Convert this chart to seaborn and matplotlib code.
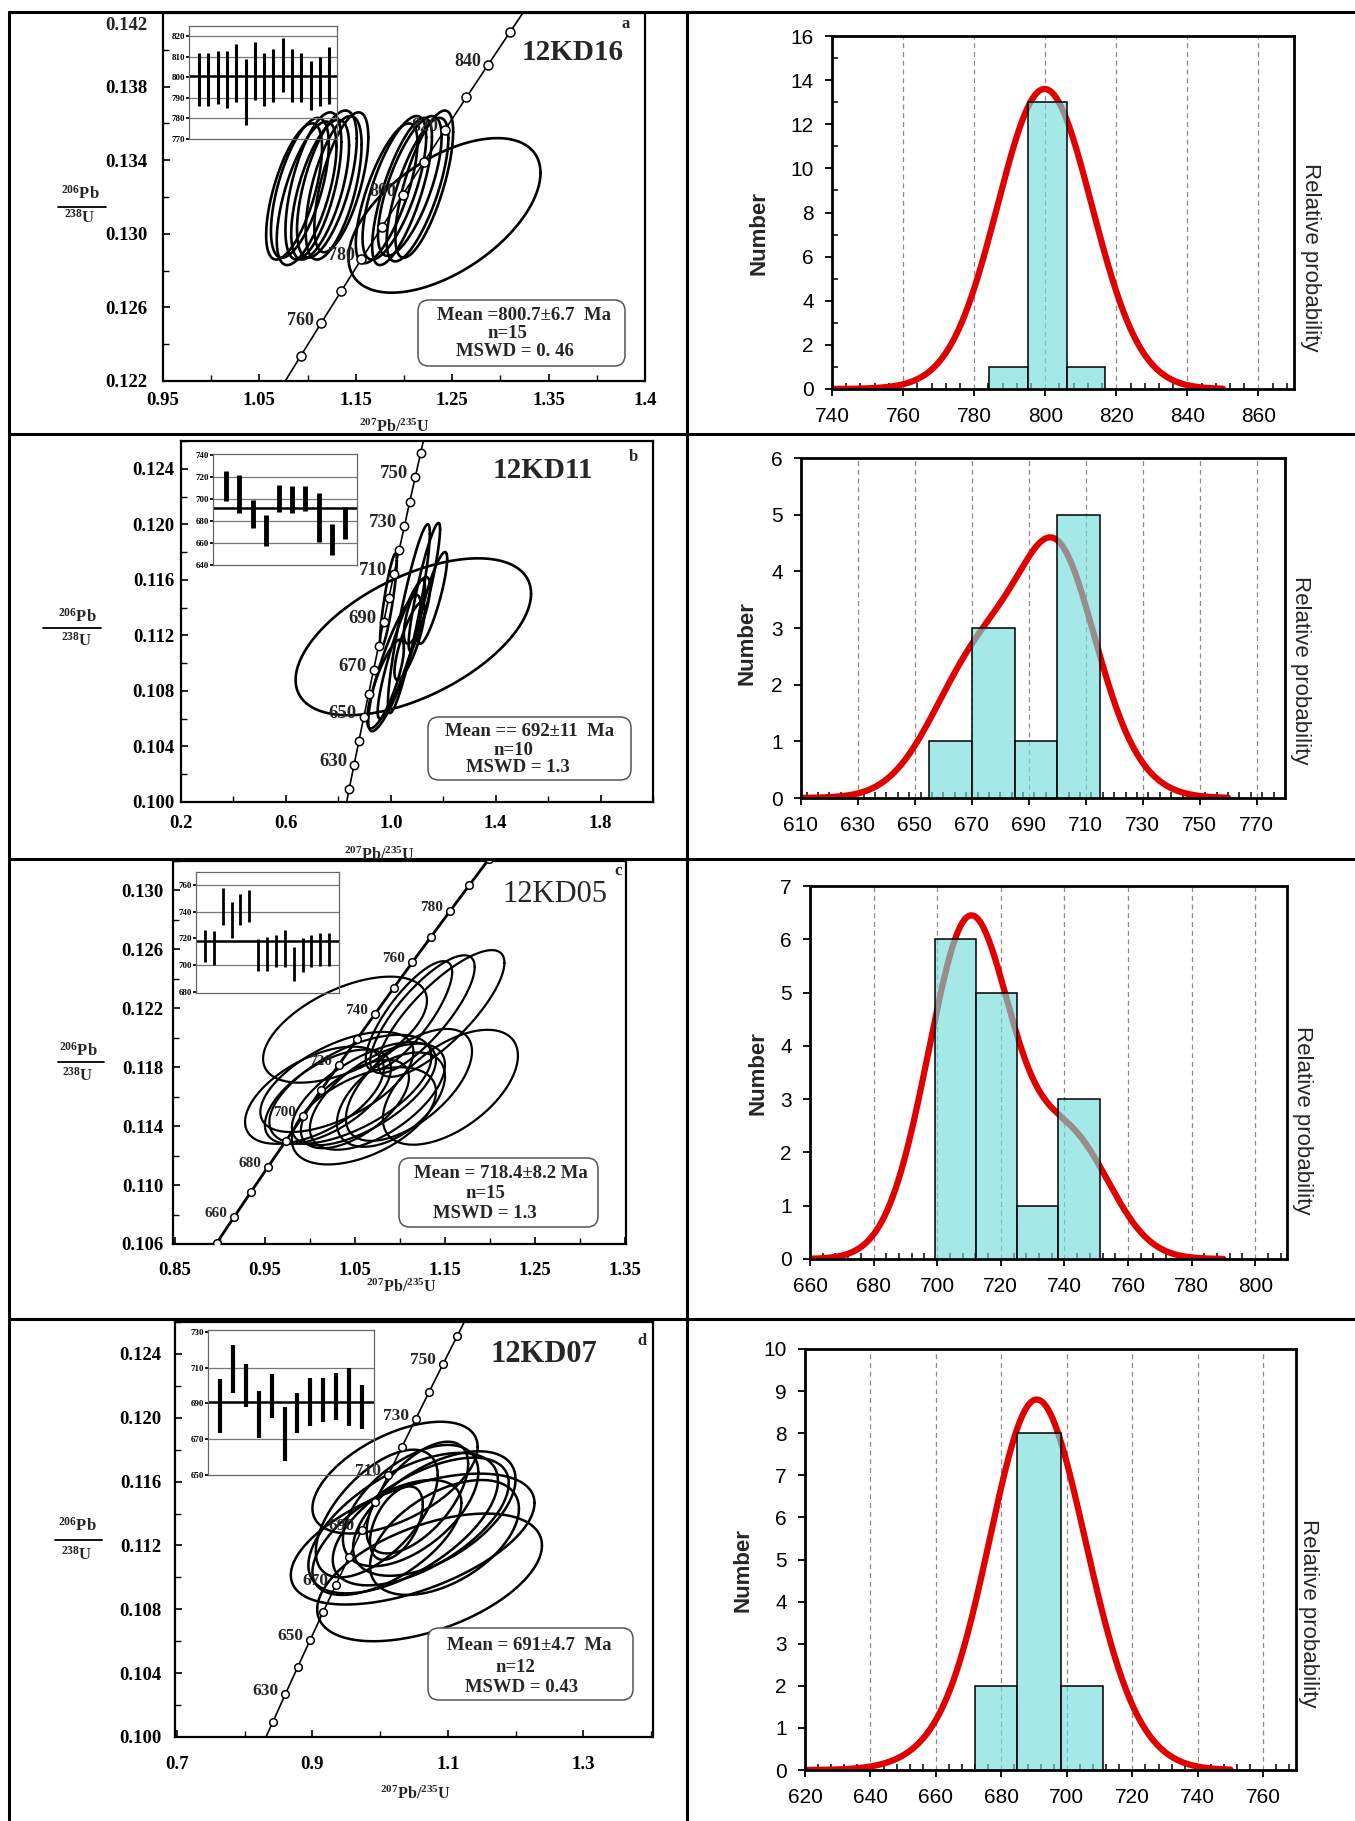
import numpy as np
import matplotlib
matplotlib.use('Agg')
import matplotlib.pyplot as plt
import seaborn as sns
from matplotlib.lines import Line2D
from matplotlib.patches import FancyBboxPatch
from matplotlib.ticker import MultipleLocator

W, H = 1355, 1821
L238 = 1.55125e-4   # decay constants, per Ma
L235 = 9.8485e-4

# ---------------- 12KD16 ----------------
kd16_ages = [799, 799, 800, 799, 802, 793, 803, 799, 801, 806, 801, 800, 796, 798, 801]
kd16_errs = [13, 13, 13, 14, 14, 16, 14, 13, 13, 13, 13, 12, 12, 12, 14]
kd16_bins = [784.2, 795.1, 806.0, 816.9]
kd16_counts = [1, 13, 1]
kd16_peak = 13.6
kd16_x = [1.086, 1.092, 1.099, 1.106, 1.113, 1.120, 1.127, 1.135,
          1.182, 1.190, 1.198, 1.206, 1.214, 1.221, 1.242]
kd16_xe = [0.029, 0.030, 0.031, 0.029, 0.030, 0.031, 0.029, 0.028,
           0.032, 0.033, 0.031, 0.033, 0.032, 0.030, 0.0996]
kd16_y = [0.1323, 0.1325, 0.1322, 0.1326, 0.1324, 0.1327, 0.1325, 0.1328,
          0.1322, 0.1325, 0.1323, 0.1326, 0.1324, 0.1327, 0.1310]
kd16_ye = [0.0037, 0.0038, 0.0039, 0.0040, 0.0038, 0.0040, 0.0039, 0.0038,
           0.0038, 0.0039, 0.0040, 0.0038, 0.0039, 0.0040, 0.0042]
kd16_rho = [0.64, 0.62, 0.65, 0.60, 0.63, 0.62, 0.60, 0.64,
            0.72, 0.70, 0.74, 0.70, 0.72, 0.71, 0.55]
kd16_marks = [760, 780, 800, 820, 840]

# ---------------- 12KD11 ----------------
kd11_ages = [711.6, 704.6, 686.4, 671.3, 700.6, 699.4, 700.5, 683.1, 663.2, 678.0]
kd11_errs = [13.6, 17.3, 13.1, 14.3, 12.1, 12.1, 11.1, 22.5, 14.1, 14.4]
kd11_bins = [655, 670, 685, 700, 715]
kd11_counts = [1, 3, 1, 5]
kd11_peak = 4.6
kd11_x = [1.086, 0.991, 1.069, 1.128, 1.160, 1.014, 1.040, 1.072, 1.100, 0.980]
kd11_xe = [0.449, 0.032, 0.080, 0.060, 0.055, 0.100, 0.090, 0.058, 0.050, 0.070]
kd11_y = [0.1119, 0.1145, 0.1132, 0.1155, 0.1147, 0.1100, 0.1110, 0.1116, 0.1138, 0.1085]
kd11_ye = [0.00565, 0.0034, 0.0068, 0.0046, 0.0033, 0.0049, 0.0050, 0.0028, 0.0024, 0.0032]
kd11_rho = [0.55, 0.85, 0.90, 0.90, 0.85, 0.85, 0.90, 0.80, 0.70, 0.80]
kd11_marks = [630, 650, 670, 690, 710, 730, 750]

# ---------------- 12KD05 ----------------
kd05_ages = [714.6, 712.9, 743.8, 733.8, 741.9, 744.4, 707.6, 708.4, 710.6, 712.3,
             700.8, 707.3, 710.6, 711.8, 711.5]
kd05_errs = [12.1, 12.9, 13.8, 13.8, 11.9, 11.9, 11.9, 12.9, 11.9, 14.0,
             12.5, 12.8, 11.9, 12.5, 12.3]
kd05_bins = [699.3, 712.3, 725.2, 738.1, 751.3]
kd05_counts = [6, 5, 1, 3]
kd05_peak = 6.45
kd05_x = [1.039, 1.146, 1.125, 1.110, 1.156, 1.030, 1.045, 1.060, 1.020, 1.075,
          1.050, 1.090, 1.060, 1.005, 1.110]
kd05_xe = [0.091, 0.070, 0.058, 0.048, 0.075, 0.085, 0.090, 0.080, 0.070, 0.075,
           0.060, 0.060, 0.080, 0.077, 0.070]
kd05_y = [0.12055, 0.12165, 0.1216, 0.1215, 0.11664, 0.1170, 0.1165, 0.1162, 0.1160, 0.1160,
          0.1155, 0.1158, 0.1147, 0.1161, 0.1168]
kd05_ye = [0.0036, 0.0043, 0.0040, 0.0037, 0.0039, 0.0034, 0.0037, 0.0035, 0.0032, 0.0036,
           0.0030, 0.0032, 0.0033, 0.0033, 0.0038]
kd05_rho = [0.55, 0.80, 0.80, 0.80, 0.55, 0.60, 0.60, 0.65, 0.60, 0.60,
            0.60, 0.50, 0.50, 0.55, 0.60]
kd05_marks = [660, 680, 700, 720, 740, 760, 780]

# ---------------- 12KD07 ----------------
kd07_ages = [688.8, 709.2, 700.0, 683.8, 694.0, 672.7, 684.8, 690.7, 691.9, 693.9, 693.7, 688.0]
kd07_errs = [15.1, 13.3, 12.2, 13.2, 12.3, 15.1, 11.1, 13.3, 12.1, 13.2, 16.3, 12.3]
kd07_bins = [672.0, 684.9, 698.1, 711.0]
kd07_counts = [2, 8, 2]
kd07_peak = 8.8
kd07_x = [1.022, 1.073, 1.048, 1.034, 1.060, 1.045, 1.010, 1.080, 1.024, 1.055, 0.995, 1.095]
kd07_xe = [0.122, 0.166, 0.180, 0.140, 0.130, 0.100, 0.110, 0.120, 0.039, 0.075, 0.090, 0.110]
kd07_y = [0.11625, 0.1100, 0.1124, 0.1134, 0.1135, 0.1145, 0.1125, 0.1140, 0.1134, 0.1150, 0.1140, 0.1125]
kd07_ye = [0.0035, 0.0040, 0.0041, 0.0044, 0.0040, 0.0038, 0.0036, 0.0039, 0.0023, 0.0035, 0.0040, 0.0036]
kd07_rho = [0.55, 0.50, 0.55, 0.60, 0.60, 0.55, 0.60, 0.55, 0.50, 0.60, 0.60, 0.50]
kd07_marks = [630, 650, 670, 690, 710, 730, 750]

samples = [
    dict(name='12KD16', letter='a', ages=kd16_ages, errs=kd16_errs, bins=kd16_bins,
         counts=kd16_counts, peak=kd16_peak, ex=kd16_x, exe=kd16_xe, ey=kd16_y,
         eye=kd16_ye, rho=kd16_rho, marks=kd16_marks, mean=800.7,
         box=['Mean =800.7\u00b16.7  Ma', 'n=15', 'MSWD = 0. 46']),
    dict(name='12KD11', letter='b', ages=kd11_ages, errs=kd11_errs, bins=kd11_bins,
         counts=kd11_counts, peak=kd11_peak, ex=kd11_x, exe=kd11_xe, ey=kd11_y,
         eye=kd11_ye, rho=kd11_rho, marks=kd11_marks, mean=692,
         box=['Mean == 692\u00b111  Ma', 'n=10', 'MSWD = 1.3']),
    dict(name='12KD05', letter='c', ages=kd05_ages, errs=kd05_errs, bins=kd05_bins,
         counts=kd05_counts, peak=kd05_peak, ex=kd05_x, exe=kd05_xe, ey=kd05_y,
         eye=kd05_ye, rho=kd05_rho, marks=kd05_marks, mean=718.4,
         box=['Mean = 718.4\u00b18.2 Ma', 'n=15', 'MSWD = 1.3']),
    dict(name='12KD07', letter='d', ages=kd07_ages, errs=kd07_errs, bins=kd07_bins,
         counts=kd07_counts, peak=kd07_peak, ex=kd07_x, exe=kd07_xe, ey=kd07_y,
         eye=kd07_ye, rho=kd07_rho, marks=kd07_marks, mean=691,
         box=['Mean = 691\u00b14.7  Ma', 'n=12', 'MSWD = 0.43']),
]

# layout (pixel positions in the 1355x1821 figure) and styles
left_layout = [
    dict(ax=(163, 13, 645, 381), xlim=(0.95, 1.45), ylim=(0.122, 0.142),
         xt=[0.95, 1.05, 1.15, 1.25, 1.35, 1.45], xtl=['0.95', '1.05', '1.15', '1.25', '1.35', '1.4'],
         xminor=0.05, yt=np.arange(0.122, 0.1425, 0.004), yminor=0.002, trange=(700, 900),
         ypad=11, xpad=8, elw=1.9, clw=1.2, ms=6.5, mfs=13,
         inset=(189, 26, 337, 139), iylim=(770, 825), iyt=[770, 780, 790, 800, 810, 820],
         igrid=[780, 790, 810, 820], ixlim=(-0.1, 15.85), ilw=2.2,
         title=(573, 52, 'bold', 21), let=(626, 24),
         mbox=(418, 300, 625, 366), mlines=[(524, 315), (507, 333), (515, 352)],
         frac=(80, 194, 207, 218, 58, 106), xlab=(394, 427)),
    dict(ax=(181, 441, 653, 802), xlim=(0.2, 2.0), ylim=(0.100, 0.126),
         xt=[0.2, 0.6, 1.0, 1.4, 1.8], xtl=['0.2', '0.6', '1.0', '1.4', '1.8'],
         xminor=0.2, yt=np.arange(0.100, 0.1245, 0.004), yminor=0.002, trange=(600, 800),
         ypad=5, xpad=9, elw=1.9, clw=1.2, ms=6, mfs=13.5,
         inset=(213, 454, 357, 565), iylim=(640, 741), iyt=[640, 660, 680, 700, 720, 740],
         igrid=[660, 680, 700, 720], ixlim=(0, 10.9), ilw=3.5,
         title=(543, 471, 'bold', 21), let=(633, 457),
         mbox=(428, 717, 631, 780), mlines=[(530, 731), (513, 750), (518, 768)],
         frac=(77, 617, 628, 641, 43, 101), xlab=(379, 855)),
    dict(ax=(173, 861, 626, 1244), xlim=(0.848, 1.351), ylim=(0.106, 0.132),
         xt=[0.85, 0.95, 1.05, 1.15, 1.25, 1.35], xtl=['0.85', '0.95', '1.05', '1.15', '1.25', '1.35'],
         xminor=0.05, yt=np.arange(0.106, 0.1305, 0.004), yminor=0.002, trange=(600, 820),
         ypad=7, xpad=13, elw=1.6, clw=2.0, ms=5.5, mfs=11,
         inset=(196, 872, 339, 993), iylim=(679, 770), iyt=[680, 700, 720, 740, 760],
         igrid=[700, 740, 760], ixlim=(0, 16.1), ilw=2.0,
         title=(555, 895, 'normal', 22), let=(618, 871),
         mbox=(399, 1158, 598, 1227), mlines=[(501, 1173), (485, 1193), (485, 1213)],
         frac=(78, 1051, 1062, 1076, 58, 104), xlab=(401, 1287)),
    dict(ax=(175, 1322, 653, 1737), xlim=(0.697, 1.403), ylim=(0.100, 0.126),
         xt=[0.7, 0.9, 1.1, 1.3], xtl=['0.7', '0.9', '1.1', '1.3'],
         xminor=0.1, yt=np.arange(0.100, 0.1245, 0.004), yminor=0.002, trange=(600, 800),
         ypad=10, xpad=14, elw=1.8, clw=1.2, ms=5.5, mfs=12.5,
         inset=(208, 1330, 374, 1475), iylim=(650, 731), iyt=[650, 670, 690, 710, 730],
         igrid=[670, 710], ixlim=(0.05, 12.95), ilw=3.0,
         title=(544, 1355, 'bold', 22), let=(642, 1341),
         mbox=(428, 1628, 633, 1700), mlines=[(529, 1645), (515, 1667), (522, 1687)],
         frac=(77, 1526, 1540, 1555, 55, 102), xlab=(415, 1794)),
]

right_layout = [
    dict(ax=(832, 36, 1294, 389), xlim=(740, 870), xstep=20, ylim=(0, 16), ystep=2, yminor=1,
         crange=(740, 850), num=(759, 233), rel=(1310, 257)),
    dict(ax=(801, 458, 1285, 798), xlim=(610, 780), xstep=20, ylim=(0, 6), ystep=1, yminor=None,
         crange=(610, 760), num=(747, 643), rel=(1301, 670)),
    dict(ax=(810, 886, 1287, 1259), xlim=(660, 810), xstep=20, ylim=(0, 7), ystep=1, yminor=None,
         crange=(660, 790), num=(758, 1073), rel=(1302, 1120)),
    dict(ax=(805, 1349, 1296, 1770), xlim=(620, 770), xstep=20, ylim=(0, 10), ystep=1, yminor=None,
         crange=(620, 750), num=(743, 1570), rel=(1309, 1613)),
]

sns.set_theme(style='white')
plt.rcParams['font.family'] = ['Liberation Sans', 'DejaVu Sans']
plt.rcParams['mathtext.default'] = 'regular'
SERIF = ['Liberation Serif', 'DejaVu Serif']

fig = plt.figure(figsize=(W / 100, H / 100), dpi=100)
fig.patch.set_facecolor('white')


def rect(x0, y0, x1, y1):
    return [x0 / W, 1 - y1 / H, (x1 - x0) / W, (y1 - y0) / H]


def ftext(x, y, s, **kw):
    fig.text(x / W, 1 - y / H, s, **kw)


def fline(x0, y0, x1, y1, **kw):
    fig.add_artist(Line2D([x0 / W, x1 / W], [1 - y0 / H, 1 - y1 / H],
                          transform=fig.transFigure, **kw))


def concordia_panel(s, L):
    ax = fig.add_axes(rect(*L['ax']))
    ax.set_facecolor('white')
    th = np.linspace(0, 2 * np.pi, 240)
    for cx, sx, cy, sy, r in zip(s['ex'], s['exe'], s['ey'], s['eye'], s['rho']):
        ax.plot(cx + sx * np.cos(th),
                cy + sy * (r * np.cos(th) + np.sqrt(1 - r * r) * np.sin(th)),
                color='black', lw=L['elw'], zorder=2)
    # concordia curve
    t = np.linspace(L['trange'][0], L['trange'][1], 400)
    ax.plot(np.expm1(L235 * t), np.expm1(L238 * t), color='black', lw=L['clw'], zorder=3)
    tm = np.arange(L['trange'][0], L['trange'][1] + 1, 10)
    ax.plot(np.expm1(L235 * tm), np.expm1(L238 * tm), 'o', mfc='white', mec='black',
            mew=1.1, ms=L['ms'], zorder=4)
    for a in s['marks']:
        ax.annotate(str(a), (np.expm1(L235 * a), np.expm1(L238 * a)), xytext=(-5, 2.5),
                    textcoords='offset points', ha='right', va='center', fontsize=L['mfs'],
                    fontfamily=SERIF, fontweight='bold', zorder=5)
    ax.set_xlim(*L['xlim'])
    ax.set_ylim(*L['ylim'])
    ax.set_xticks(L['xt'], L['xtl'], fontfamily=SERIF, fontweight='bold', fontsize=13.5)
    ylab = ['%.3f' % v for v in L['yt']]
    top_at_edge = L['yt'][-1] >= L['ylim'][1] - 1e-6
    if top_at_edge:
        # the top label sits just under the frame, as in the original
        ax.annotate(ylab[-1], (0, L['yt'][-1]), xycoords=('axes fraction', 'data'),
                    xytext=(-L['ypad'], -3), textcoords='offset points', ha='right', va='top',
                    fontfamily=SERIF, fontweight='bold', fontsize=13.5)
        ylab[-1] = ''
    ax.set_yticks(L['yt'], ylab, fontfamily=SERIF, fontweight='bold', fontsize=13.5)
    ax.xaxis.set_minor_locator(MultipleLocator(L['xminor']))
    ax.yaxis.set_minor_locator(MultipleLocator(L['yminor']))
    ax.tick_params(which='both', direction='in', bottom=True, left=True, colors='black')
    ax.tick_params(which='major', length=5, width=1.2)
    ax.tick_params(which='minor', length=4, width=1.0)
    ax.tick_params(axis='y', pad=L['ypad'])
    ax.tick_params(axis='x', pad=L['xpad'])
    for sp in ax.spines.values():
        sp.set_color('black')
        sp.set_linewidth(1.6)

    # inset with individual ages
    ins = fig.add_axes(rect(*L['inset']))
    ins.set_facecolor('none')
    for g in L['igrid']:
        ins.axhline(g, color='#777777', lw=0.9)
    ins.axhline(s['mean'], color='black', lw=1.8)
    pos = np.arange(1, len(s['ages']) + 1)
    lo = np.array(s['ages']) - np.array(s['errs'])
    hi = np.array(s['ages']) + np.array(s['errs'])
    ins.vlines(pos, lo, hi, color='black', lw=L['ilw'])
    ins.set_xlim(*L['ixlim'])
    ins.set_ylim(*L['iylim'])
    ins.set_xticks([])
    ins.set_yticks(L['iyt'], [str(v) for v in L['iyt']], fontfamily=SERIF,
                   fontweight='bold', fontsize=6.5)
    ins.tick_params(axis='y', left=True, length=2, pad=1, colors='black')
    for sp in ins.spines.values():
        sp.set_color('#666666')
        sp.set_linewidth(0.9)

    # texts
    tx, ty, tw, tsz = L['title']
    ftext(tx, ty, s['name'], ha='center', va='center', fontsize=tsz,
          fontfamily=SERIF, fontweight=tw)
    ftext(L['let'][0], L['let'][1], s['letter'], ha='center', va='center', fontsize=12,
          fontfamily=SERIF, fontweight='bold')
    x0, y0, x1, y1 = L['mbox']
    fig.add_artist(FancyBboxPatch((x0 / W, 1 - y1 / H), (x1 - x0) / W, (y1 - y0) / H,
                                  boxstyle='round,pad=0,rounding_size=0.008',
                                  mutation_aspect=W / H, transform=fig.transFigure,
                                  facecolor='white', edgecolor='#555555', lw=1.1, zorder=6))
    for (lx, ly), line in zip(L['mlines'], s['box']):
        ftext(lx, ly, line, ha='center', va='center', fontsize=13.5, fontfamily=SERIF,
              fontweight='bold', zorder=7)
    fx, fy1, fly, fy2, fl0, fl1 = L['frac']
    ftext(fx, fy1, '$^{206}$Pb', ha='center', va='center', fontsize=12,
          fontfamily=SERIF, fontweight='bold')
    fline(fl0, fly, fl1, fly, color='black', lw=1.3)
    ftext(fx, fy2, '$^{238}$U', ha='center', va='center', fontsize=12,
          fontfamily=SERIF, fontweight='bold')
    ftext(L['xlab'][0], L['xlab'][1], '$^{207}$Pb/$^{235}$U', ha='center', va='center',
          fontsize=11.5, fontfamily=SERIF, fontweight='bold')


def hist_panel(s, R):
    ax = fig.add_axes(rect(*R['ax']))
    ax.set_facecolor('white')
    # relative probability curve from the single-grain ages
    grid = np.linspace(R['crange'][0], R['crange'][1], 600)
    dens = np.zeros_like(grid)
    for m, e in zip(s['ages'], s['errs']):
        dens += np.exp(-0.5 * ((grid - m) / e) ** 2) / (e * np.sqrt(2 * np.pi))
    dens = dens * s['peak'] / dens.max()
    sns.lineplot(x=grid, y=dens, ax=ax, color='#e00000', lw=4.5, zorder=2,
                 estimator=None, sort=False)
    edges = s['bins']
    centers = [(a + b) / 2 for a, b in zip(edges[:-1], edges[1:])]
    sns.histplot(x=centers, weights=s['counts'], bins=edges, ax=ax, zorder=3)
    for p in ax.patches:
        p.set_alpha(None)
        p.set_facecolor((115 / 255, 220 / 255, 220 / 255, 0.64))
        p.set_edgecolor('black')
        p.set_linewidth(1.1)
        p.set_zorder(3)
    ax.set_xlim(*R['xlim'])
    ax.set_ylim(*R['ylim'])
    ax.set_xticks(np.arange(R['xlim'][0], R['xlim'][1] - 1, R['xstep']))
    ax.set_yticks(np.arange(R['ylim'][0], R['ylim'][1] + 0.5, R['ystep']))
    ax.xaxis.set_minor_locator(MultipleLocator(4))
    if R['yminor']:
        ax.yaxis.set_minor_locator(MultipleLocator(R['yminor']))
    ax.set_xlabel('')
    ax.set_ylabel('')
    ax.grid(False)
    ax.xaxis.grid(True, which='major', linestyle=(0, (4, 3)), color='#8a8a8a', lw=0.9)
    ax.set_axisbelow(True)
    ax.tick_params(which='both', bottom=True, left=True, colors='black')
    ax.tick_params(which='major', direction='out', length=5, width=1.3, labelsize=15, pad=8)
    ax.tick_params(which='minor', direction='in', length=4, width=1.1)
    for sp in ax.spines.values():
        sp.set_color('black')
        sp.set_linewidth(2)
    ftext(R['num'][0], R['num'][1], 'Number', rotation=90, ha='center', va='center',
          fontsize=16, fontweight='bold')
    ftext(R['rel'][0], R['rel'][1], 'Relative probability', rotation=270, ha='center',
          va='center', fontsize=16)


for s, L, R in zip(samples, left_layout, right_layout):
    concordia_panel(s, L)
    hist_panel(s, R)

# table frame
for y in [12, 434, 859, 1319]:
    fline(9, y, W, y, color='black', lw=2.2)
fline(9, 12, 9, H, color='black', lw=2.2)
fline(687, 12, 687, H, color='black', lw=2.2)

fig.savefig('out.png', dpi=100, facecolor='white')
